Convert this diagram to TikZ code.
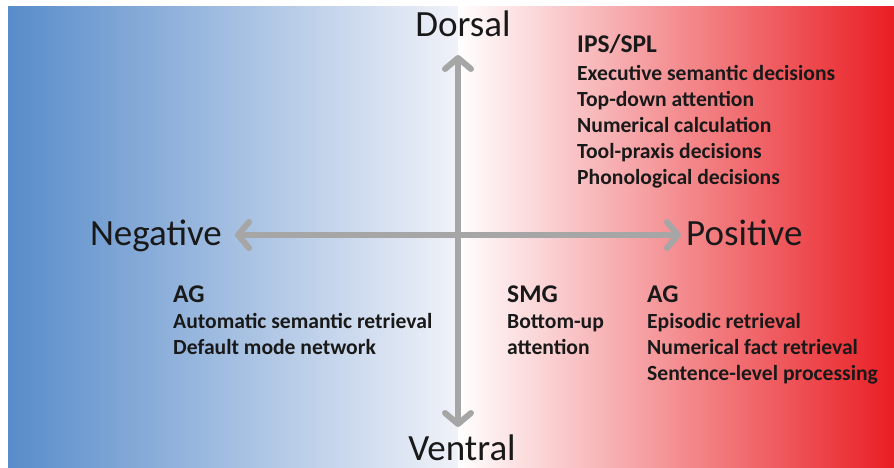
\documentclass[tikz,border=0pt]{standalone}
\usepackage{fontspec}
\setmainfont{Carlito}
\usetikzlibrary{arrows.meta}
\definecolor{negblue}{RGB}{88,140,202}
\definecolor{negwhite}{RGB}{240,242,249}
\definecolor{posred}{RGB}{233,30,36}
\definecolor{axisgray}{RGB}{166,166,166}
\definecolor{ink}{RGB}{25,25,25}
\begin{document}
\begin{tikzpicture}[x=1pt,y=-1pt,
    axis/.style={draw=axisgray,line width=6pt,line cap=round,
        {Straight Barb[length=11pt,width=26pt,round]}-{Straight Barb[length=11pt,width=26pt,round]}},
    pole/.style={text=ink,inner sep=0pt,font=\fontsize{37}{44}\selectfont},
    region/.style={text=ink,inner sep=0pt,anchor=base west,font=\bfseries\fontsize{25.5}{26}\selectfont},
    roles/.style={text=ink,inner sep=0pt,anchor=base west,align=left,font=\bfseries\fontsize{21.6}{26}\selectfont}]
    \useasboundingbox (0,0) rectangle (894,468);

    % background: blue half fading into white, white fading into red
    \shade[left color=negblue,right color=negwhite] (8,7) rectangle (458,468);
    \shade[left color=white,right color=posred] (458,7) rectangle (894,468);

    % axes
    \coordinate (west) at (235,235);
    \coordinate (east) at (681,235);
    \coordinate (north) at (458,55);
    \coordinate (south) at (458,427);
    \draw[axis] (west) -- (east);
    \draw[axis] (south) -- (north);

    \node[pole,anchor=base] (dorsal) at (463,37) {Dorsal};
    \node[pole,anchor=base] (ventral) at (462,460) {Ventral};
    \node[pole,anchor=base east] (negative) at (222,245) {Negative};
    \node[pole,anchor=base west] (positive) at (686,245) {Positive};

    % upper right (roles placed by the baseline of their last line)
    \node[region] (ips) at (577,53) {IPS/SPL};
    \node[roles] (ipsroles) at (577,184) {Executive semantic decisions\\Top-down attention\\Numerical calculation\\Tool-praxis decisions\\Phonological decisions};

    % lower left
    \node[region] (agneg) at (173,302) {AG};
    \node[roles] (agnegroles) at (173,354) {Automatic semantic retrieval\\Default mode network};

    % lower right
    \node[region] (smg) at (507,302) {SMG};
    \node[roles] (smgroles) at (507,354) {Bottom-up\\attention};
    \node[region] (agpos) at (647,302) {AG};
    \node[roles] (agposroles) at (647,380) {Episodic retrieval\\Numerical fact retrieval\\Sentence-level processing};
\end{tikzpicture}
\end{document}
